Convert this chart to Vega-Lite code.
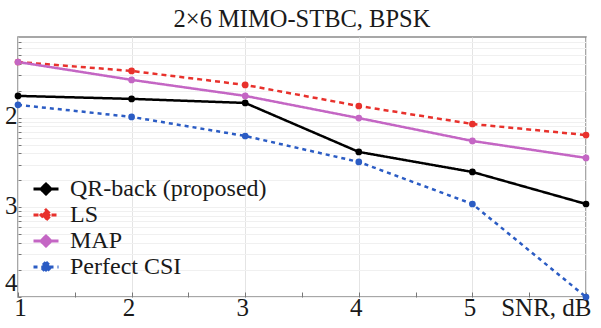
{
  "$schema": "https://vega.github.io/schema/vega-lite/v6.json",
  "width": 568,
  "height": 260,
  "autosize": "none",
  "padding": {"left": 18, "top": 37, "right": 15, "bottom": 31},
  "background": "white",
  "title": {"text": "2×6 MIMO-STBC, BPSK", "font": "Liberation Serif", "fontSize": 24.5, "fontWeight": "normal", "color": "#1a1a1a", "anchor": "middle", "offset": 7, "dy": 12},
  "config": {
    "font": "Liberation Serif",
    "view": {"stroke": "#8a8a8a", "strokeWidth": 1.5},
    "axis": {"labelFont": "Liberation Serif", "labelFontSize": 25, "labelColor": "#1a1a1a", "domain": false, "tickColor": "#777", "gridColor": "#e4e4e4", "title": null, "labelOverlap": false},
    "legend": {"labelFont": "Liberation Serif"}
  },
  "data": {"values": [
    {"snr": 1, "ber": 0.0175, "series": "QR-back (proposed)"},
    {"snr": 2, "ber": 0.0162, "series": "QR-back (proposed)"},
    {"snr": 3, "ber": 0.0146, "series": "QR-back (proposed)"},
    {"snr": 4, "ber": 0.00415, "series": "QR-back (proposed)"},
    {"snr": 5, "ber": 0.00248, "series": "QR-back (proposed)"},
    {"snr": 6, "ber": 0.00109, "series": "QR-back (proposed)"},
    {"snr": 1, "ber": 0.0418, "series": "LS"},
    {"snr": 2, "ber": 0.0332, "series": "LS"},
    {"snr": 3, "ber": 0.0232, "series": "LS"},
    {"snr": 4, "ber": 0.0135, "series": "LS"},
    {"snr": 5, "ber": 0.0085, "series": "LS"},
    {"snr": 6, "ber": 0.0064, "series": "LS"},
    {"snr": 1, "ber": 0.0418, "series": "MAP"},
    {"snr": 2, "ber": 0.0264, "series": "MAP"},
    {"snr": 3, "ber": 0.0175, "series": "MAP"},
    {"snr": 4, "ber": 0.0099, "series": "MAP"},
    {"snr": 5, "ber": 0.0055, "series": "MAP"},
    {"snr": 6, "ber": 0.00356, "series": "MAP"},
    {"snr": 1, "ber": 0.0139, "series": "Perfect CSI"},
    {"snr": 2, "ber": 0.0102, "series": "Perfect CSI"},
    {"snr": 3, "ber": 0.00625, "series": "Perfect CSI"},
    {"snr": 4, "ber": 0.00321, "series": "Perfect CSI"},
    {"snr": 5, "ber": 0.00109, "series": "Perfect CSI"},
    {"snr": 6, "ber": 0.0001, "series": "Perfect CSI"}
  ]},
  "encoding": {
    "x": {"field": "snr", "type": "quantitative",
      "scale": {"domain": [1, 6], "nice": false, "zero": false},
      "axis": {"values": [1, 1.5, 2, 2.5, 3, 3.5, 4, 4.5, 5, 5.5, 6],
        "labelExpr": "datum.value == 6 ? 'SNR, dB' : (datum.value % 1 == 0 ? format(datum.value, 'd') : '')",
        "labelAlign": {"expr": "datum.value == 6 ? 'right' : 'center'"},
        "labelOffset": {"expr": "datum.value == 6 ? 5 : (datum.value == 1 ? 2 : -3)"},
        "gridOpacity": {"expr": "datum.value % 1 == 0 ? 1 : 0"},
        "tickSize": -5, "labelPadding": 3}},
    "y": {"field": "ber", "type": "quantitative",
      "scale": {"type": "log", "domain": [0.0001, 0.0794], "nice": false},
      "axis": {"values": [0.0001, 0.0002, 0.0003, 0.0004, 0.0005, 0.0006, 0.0007, 0.0008, 0.0009, 0.001, 0.002, 0.003, 0.004, 0.005, 0.006, 0.007, 0.008, 0.009, 0.01, 0.02, 0.03, 0.04, 0.05, 0.06, 0.07],
        "labelExpr": "datum.value == 0.01 ? '2' : (datum.value == 0.001 ? '3' : (datum.value == 0.0001 ? '4' : ''))",
        "labelOffset": {"expr": "datum.value == 0.0001 ? -15 : -2"},
        "tickSize": -3, "labelPadding": 4, "gridColor": "#f0f0f0"}},
    "color": {"field": "series", "type": "nominal",
      "scale": {"domain": ["QR-back (proposed)", "LS", "MAP", "Perfect CSI"], "range": ["#000000", "#e8312c", "#c466c4", "#2b5cc4"]},
      "legend": {"orient": "none", "legendX": 14, "legendY": 138, "title": null,
        "labelFont": "Liberation Serif", "labelFontSize": 24, "labelColor": "#1a1a1a", "labelLimit": 400,
        "symbolType": "M-1,0H1M0,-0.4L0.4,0L0,0.4L-0.4,0Z", "symbolSize": 625, "symbolStrokeWidth": 3,
        "rowPadding": -1, "labelOffset": 10, "padding": 0, "symbolDash": [1, 0]}}
  },
  "layer": [
    {"mark": {"type": "line", "strokeWidth": 2.5},
     "encoding": {
       "strokeDash": {"field": "series", "type": "nominal",
         "scale": {"domain": ["QR-back (proposed)", "LS", "MAP", "Perfect CSI"], "range": [[1, 0], [5, 4], [1, 0], [4, 4]]},
         "legend": null}}},
    {"mark": {"type": "point", "filled": true, "opacity": 1, "size": 45, "shape": "circle"}}
  ]
}
